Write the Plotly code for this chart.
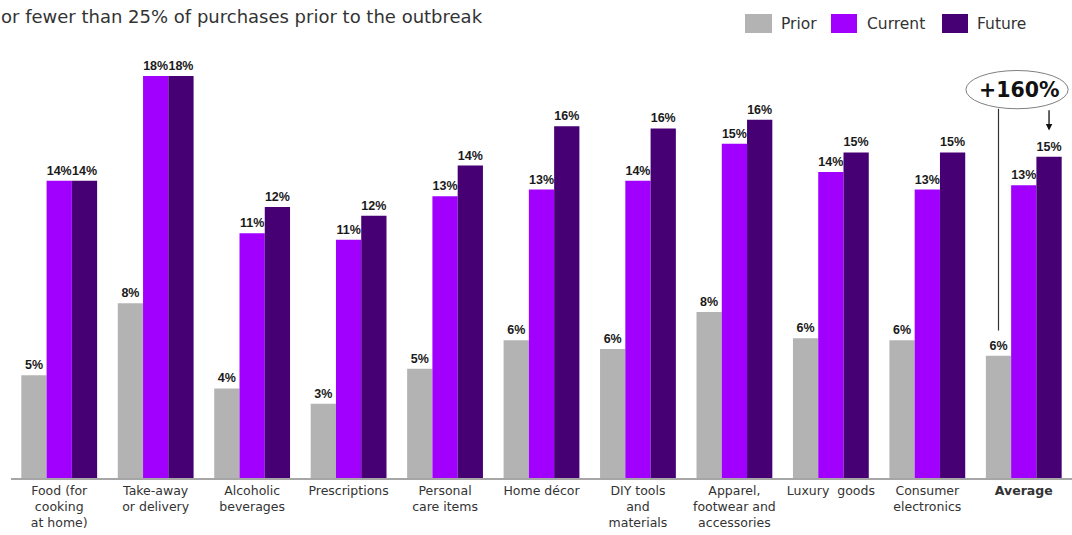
import plotly.graph_objects as go

# ---------------- data ----------------
categories = ["Food", "Take-away", "Alcoholic", "Prescriptions", "Personal care",
              "Home decor", "DIY", "Apparel", "Luxury", "Consumer electronics", "Average"]
tick_labels = ["Food (for<br>cooking<br>at home)", "Take-away<br>or delivery", "Alcoholic<br>beverages",
               "Prescriptions", "Personal<br>care items", "Home décor", "DIY tools<br>and<br>materials",
               "Apparel,<br>footwear and<br>accessories", "Luxury  goods", "Consumer<br>electronics",
               "<b>Average</b>"]
prior = [4.7, 8.0, 4.1, 3.4, 5.0, 6.3, 5.9, 7.6, 6.4, 6.3, 5.6]
current = [13.6, 18.4, 11.2, 10.9, 12.9, 13.2, 13.6, 15.3, 14.0, 13.2, 13.4]
future = [13.6, 18.4, 12.4, 12.0, 14.3, 16.1, 16.0, 16.4, 14.9, 14.9, 14.7]
series_names = ["Prior", "Current", "Future"]
series_colors = ["#B3B3B3", "#A100FF", "#460073"]
title_text = "or fewer than 25% of purchases prior to the outbreak"
uplift_text = "+160%"

# ---------------- layout constants ----------------
W, H = 1072, 535
ML, MR, MT, MB = 11, 0, 41, 57
PW, PH = W - ML - MR, H - MT - MB
BARGAP = 0.214
BW = (1 - BARGAP) / 3  # width of a single bar in category units


def px(xp):
    return (xp - ML) / PW


def py(yp):
    return (H - MB - yp) / PH


fig = go.Figure()
xs = list(range(len(categories)))
for name, vals, col in zip(series_names, [prior, current, future], series_colors):
    fig.add_trace(go.Bar(
        x=xs, y=vals, name=name, marker=dict(color=col, line=dict(width=0)),
        texttemplate="%{y:.0f}%", textposition="outside", constraintext="none",
        cliponaxis=False,
        textfont=dict(family="Liberation Sans", size=12.5, color="#1a1a1a", weight="bold"),
        showlegend=False,
    ))

shapes = []
annotations = []

# custom legend (large swatches)
leg = [(745, 772, 779), (831, 857, 865), (942, 968, 975)]
for (x0, x1, xt), name, col in zip(leg, series_names, series_colors):
    shapes.append(dict(type="rect", xref="paper", yref="paper", x0=px(x0), x1=px(x1),
                       y0=py(33), y1=py(14), fillcolor=col, line=dict(width=0)))
    annotations.append(dict(xref="paper", yref="paper", x=px(xt), y=py(24), text=name,
                            showarrow=False, xanchor="left", yanchor="middle",
                            font=dict(family="DejaVu Sans", size=15.5, color="#333333")))

# title text (cut at left edge)
annotations.append(dict(xref="paper", yref="paper", x=px(-1), y=py(16), text=title_text,
                        showarrow=False, xanchor="left", yanchor="middle",
                        font=dict(family="DejaVu Sans", size=18, color="#333333")))

# +160% callout
avg_i = len(categories) - 1
ell_bottom = 16.9
shapes.append(dict(type="circle", xref="x", yref="y", x0=avg_i - 0.6, x1=avg_i + 0.46,
                   y0=ell_bottom, y1=18.65, line=dict(color="#7f7f7f", width=1), fillcolor="rgba(0,0,0,0)"))
shapes.append(dict(type="line", xref="x", yref="y", x0=avg_i - BW, x1=avg_i - BW,
                   y0=prior[avg_i] + 1.15, y1=ell_bottom, line=dict(color="#333333", width=1.2)))
annotations.append(dict(xref="x", yref="y", x=avg_i - 0.04, y=(ell_bottom + 18.65) / 2,
                        text="<b>" + uplift_text + "</b>", showarrow=False,
                        xanchor="center", yanchor="middle",
                        font=dict(family="DejaVu Sans", size=20.5, color="#111111")))
annotations.append(dict(xref="x", yref="y", axref="x", ayref="y",
                        x=avg_i + BW, y=future[avg_i] + 1.2, ax=avg_i + BW, ay=ell_bottom,
                        text="", showarrow=True, arrowhead=2, arrowsize=1, arrowwidth=1.3,
                        arrowcolor="#111111", standoff=0, startstandoff=0))

fig.update_layout(
    width=W, height=H,
    margin=dict(l=ML, r=MR, t=MT, b=MB, pad=0),
    barmode="group", bargap=BARGAP, bargroupgap=0,
    plot_bgcolor="white", paper_bgcolor="white",
    shapes=shapes, annotations=annotations,
    xaxis=dict(tickmode="array", tickvals=xs, ticktext=tick_labels,
               range=[-0.5, len(categories) - 0.5],
               showline=True, linecolor="#a6a6a6", linewidth=1.5, ticks="",
               showgrid=False, zeroline=False,
               tickfont=dict(family="DejaVu Sans", size=12.5, color="#333333")),
    yaxis=dict(range=[0, 20], visible=False, showgrid=False, zeroline=False),
)

fig.write_html("out.html")
